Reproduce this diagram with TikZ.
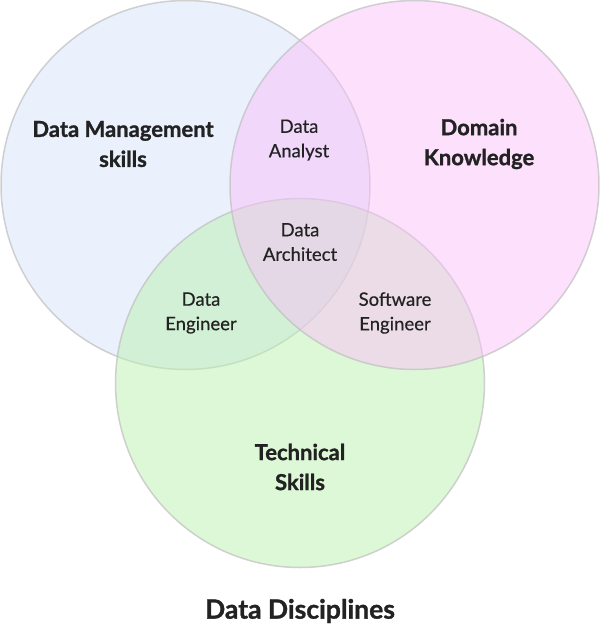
\documentclass[tikz,border=0pt]{standalone}
\usepackage{fontspec}
\setmainfont{Lato}
\usepackage{tikz}
\definecolor{mgmtblue}{RGB}{213,225,249}
\definecolor{domainpink}{RGB}{249,193,249}
\definecolor{techgreen}{RGB}{187,241,175}
\definecolor{inkgray}{RGB}{34,34,34}
\begin{document}
\begin{tikzpicture}[x=1pt,y=-1pt]
	\tikzstyle{set}=[circle,draw=black!25,line width=1.5pt,minimum size=369pt,inner sep=0pt,fill opacity=0.5,draw opacity=0.7]
	\tikzstyle{area}=[align=center,text=inkgray,font=\fontsize{22}{30}\selectfont\bfseries\addfontfeatures{FakeBold=1.2}]
	\tikzstyle{role}=[align=center,text=inkgray,font=\fontsize{18.5}{24.5}\selectfont\addfontfeatures{FakeBold=0.4}]
	\useasboundingbox (0,0) rectangle (600,625);
	\node[set,fill=mgmtblue](mgmt) at (185.5,185) {};
	\node[set,fill=techgreen](tech) at (300,383) {};
	\node[set,fill=domainpink](domain) at (414.5,185) {};
	\node[area](mgmtlbl) at (123,144) {Data Management\\skills};
	\node[area](domainlbl) at (479,144) {Domain\\Knowledge};
	\node[area](techlbl) at (300,467) {Technical\\Skills};
	\node[role](analyst) at (299,140) {Data\\Analyst};
	\node[role](architect) at (300,242) {Data\\Architect};
	\node[role](engineer) at (201,313) {Data\\Engineer};
	\node[role](software) at (395,313) {Software\\Engineer};
	\node[area,font=\fontsize{26.5}{30}\selectfont\bfseries\addfontfeatures{FakeBold=1.2}](title) at (300,611) {Data Disciplines};
\end{tikzpicture}
\end{document}
